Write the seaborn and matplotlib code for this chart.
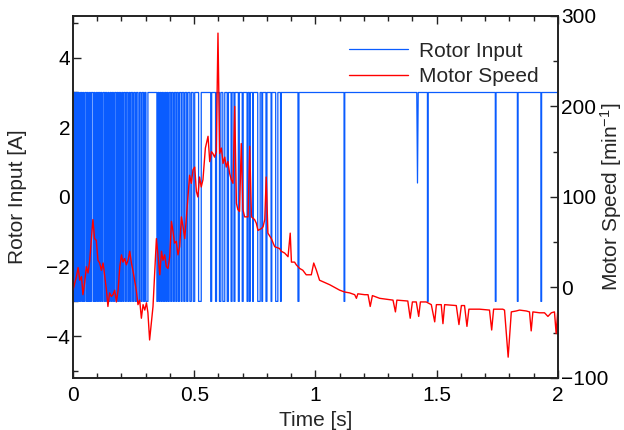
import matplotlib
matplotlib.use("Agg")
import matplotlib.pyplot as plt
import seaborn as sns
import numpy as np
import pandas as pd
from matplotlib.ticker import MultipleLocator

# Rotor input [A]: sits at +3, drops to -3 during the pulses below (start, end in s)
input_high, input_low = 3.0, -3.0
pulse_start = [0.000, 0.009, 0.017, 0.026, 0.036, 0.044, 0.055, 0.063, 0.072, 0.083,
               0.091, 0.101, 0.110, 0.119, 0.130, 0.139, 0.148, 0.158, 0.167, 0.178,
               0.187, 0.196, 0.206, 0.216, 0.226, 0.236, 0.246, 0.257, 0.268, 0.280,
               0.291, 0.301, 0.346, 0.355, 0.364, 0.373, 0.383, 0.392, 0.403, 0.413,
               0.424, 0.434, 0.446, 0.457, 0.469, 0.482, 0.496, 0.518, 0.568, 0.588,
               0.604, 0.618, 0.636, 0.652, 0.664, 0.682, 0.698, 0.718, 0.728, 0.741,
               0.762, 0.779, 0.796, 0.817, 0.836, 0.856, 0.928, 1.118, 1.462, 1.742,
               1.833, 1.930]
pulse_end = [0.004, 0.013, 0.021, 0.031, 0.040, 0.049, 0.059, 0.068, 0.076, 0.087,
             0.096, 0.105, 0.114, 0.124, 0.134, 0.144, 0.153, 0.162, 0.172, 0.182,
             0.191, 0.201, 0.210, 0.220, 0.231, 0.240, 0.251, 0.262, 0.274, 0.285,
             0.296, 0.309, 0.350, 0.359, 0.368, 0.378, 0.387, 0.397, 0.407, 0.418,
             0.428, 0.439, 0.450, 0.462, 0.474, 0.488, 0.502, 0.529, 0.572, 0.592,
             0.610, 0.626, 0.641, 0.656, 0.668, 0.686, 0.702, 0.722, 0.731, 0.744,
             0.772, 0.782, 0.800, 0.820, 0.845, 0.859, 0.932, 1.121, 1.465, 1.745,
             1.836, 1.933]
# one short glitch that only dips part of the way
glitch_t = [1.418, 1.421, 1.424]
glitch_a = [3.0, 0.4, 3.0]

# Motor speed [min^-1]
speed_t = [0.000, 0.014, 0.021, 0.028, 0.035, 0.041, 0.048, 0.055, 0.062, 0.069,
           0.082, 0.089, 0.096, 0.103, 0.110, 0.117, 0.124, 0.131, 0.138, 0.144,
           0.151, 0.158, 0.165, 0.172, 0.179, 0.186, 0.193, 0.200, 0.206, 0.213,
           0.220, 0.227, 0.234, 0.241, 0.247, 0.254, 0.261, 0.268, 0.275, 0.282,
           0.289, 0.296, 0.303, 0.309, 0.316, 0.330, 0.344, 0.358, 0.365, 0.371,
           0.378, 0.385, 0.392, 0.399, 0.406, 0.412, 0.419, 0.426, 0.433, 0.440,
           0.447, 0.454, 0.461, 0.468, 0.474, 0.481, 0.488, 0.495, 0.502, 0.509,
           0.515, 0.522, 0.529, 0.536, 0.546, 0.557, 0.564, 0.571, 0.577, 0.584,
           0.591, 0.598, 0.605, 0.612, 0.619, 0.626, 0.632, 0.639, 0.646, 0.653,
           0.660, 0.667, 0.674, 0.680, 0.687, 0.694, 0.701, 0.708, 0.722, 0.729,
           0.736, 0.749, 0.756, 0.763, 0.777, 0.784, 0.791, 0.797, 0.804, 0.818,
           0.832, 0.852, 0.859, 0.873, 0.887, 0.896, 0.901, 0.914, 0.921, 0.935,
           0.948, 0.962, 0.983, 0.993, 1.004, 1.017, 1.059, 1.100, 1.120, 1.141,
           1.162, 1.169, 1.175, 1.203, 1.217, 1.226, 1.235, 1.265, 1.320, 1.330,
           1.336, 1.381, 1.391, 1.400, 1.416, 1.426, 1.433, 1.457, 1.478, 1.492,
           1.499, 1.519, 1.526, 1.533, 1.581, 1.592, 1.602, 1.615, 1.625, 1.633,
           1.677, 1.718, 1.727, 1.735, 1.773, 1.780, 1.795, 1.808, 1.828, 1.842,
           1.870, 1.883, 1.890, 1.897, 1.925, 1.945, 1.959, 1.973, 1.986, 1.993,
           1.999]
speed_v = [-3, 12, 22, 8, 12, -8, 5, 23, 16, 30,
           75, 54, 52, 30, 27, 19, 27, 12, -3, -21,
           -6, -10, -8, -3, -16, -3, 23, 36, 28, 32,
           25, 30, 40, 27, 19, 8, -3, -19, -14, -34,
           -19, -25, -17, -28, -58, -21, 54, 14, 40, 30,
           36, 23, 21, 34, 73, 63, 49, 51, 36, 45,
           78, 67, 54, 78, 97, 124, 115, 130, 133, 106,
           100, 122, 111, 119, 154, 167, 139, 150, 148, 144,
           150, 281, 148, 154, 137, 144, 133, 139, 126, 119,
           115, 200, 93, 86, 84, 159, 86, 78, 78, 156,
           78, 75, 71, 63, 65, 67, 75, 122, 60, 54,
           45, 43, 40, 38, 34, 60, 28, 28, 25, 21,
           19, 14, 14, 27, 19, 8, 3, -3, -5, -6,
           -8, -12, -7, -8, -8, -21, -9, -12, -14, -27,
           -14, -15, -34, -16, -16, -32, -16, -16, -19, -38,
           -19, -19, -40, -19, -20, -41, -20, -20, -43, -24,
           -24, -25, -47, -24, -24, -25, -77, -27, -26, -25,
           -26, -27, -48, -27, -28, -28, -32, -28, -27, -51,
           -28]

blue = "#0a5cff"
red = "#ff0000"
tick_fs = 15
label_fs = 15


def rotor_frame():
    t, a = [], []
    for s, e in zip(pulse_start, pulse_end):
        t += [s, s, e, e]
        a += [input_high, input_low, input_low, input_high]
    t += glitch_t + [2.0]
    a += glitch_a + [input_high]
    df = pd.DataFrame({"t": t, "a": a})
    return df.sort_values("t", kind="stable")


sns.set_style("ticks")
plt.rcParams["font.family"] = ["Liberation Sans", "DejaVu Sans"]
plt.rcParams["mathtext.default"] = "regular"

fig, ax = plt.subplots(figsize=(6.24, 4.30), dpi=100)
fig.subplots_adjust(left=0.117, right=0.894, top=0.963, bottom=0.121)
ax2 = ax.twinx()

sns.lineplot(data=rotor_frame(), x="t", y="a", ax=ax, color=blue, lw=0.9,
             estimator=None, sort=False, label="Rotor Input")
speed = pd.DataFrame({"t": speed_t, "v": speed_v})
sns.lineplot(data=speed, x="t", y="v", ax=ax2, color=red, lw=1.0,
             estimator=None, sort=False, label="Motor Speed")
for a in (ax, ax2):
    if a.get_legend() is not None:
        a.get_legend().remove()

ax.set_xlim(0, 2)
ax.set_ylim(-5.2, 5.2)
ax2.set_ylim(-100, 300)

ax.xaxis.set_minor_locator(MultipleLocator(0.1))
ax.yaxis.set_minor_locator(MultipleLocator(1))
ax2.yaxis.set_minor_locator(MultipleLocator(50))
ax.set_xticks([0, 0.5, 1, 1.5, 2], ["0", "0.5", "1", "1.5", "2"])
ax.set_yticks([-4, -2, 0, 2, 4], ["\u22124", "\u22122", "0", "2", "4"])
ax2.set_yticks([-100, 0, 100, 200, 300], ["\u2212100", "0", "100", "200", "300"])

ax.tick_params(axis="both", which="both", direction="in", top=True, right=False,
               colors="#222222", labelcolor="black", labelsize=tick_fs)
ax.tick_params(axis="both", which="major", length=6, width=1)
ax.tick_params(axis="both", which="minor", length=3.5, width=1)
ax.tick_params(axis="y", pad=2)
ax.tick_params(axis="x", pad=6)
ax2.tick_params(axis="y", which="both", direction="in", colors="#222222",
                labelcolor="black", labelsize=tick_fs, pad=2.5)
ax2.tick_params(axis="y", which="major", length=6, width=1)
ax2.tick_params(axis="y", which="minor", length=3.5, width=1)

for a in (ax, ax2):
    for sp in a.spines.values():
        sp.set_visible(True)
        sp.set_color("#222222")
        sp.set_linewidth(1.2)

ax.set_xlabel("Time [s]", fontsize=label_fs)
ax.set_ylabel("Rotor Input [A]", fontsize=label_fs)
ax2.set_ylabel("Motor Speed [min$^{-1}$]", fontsize=label_fs)
ax.yaxis.set_label_coords(-0.094, 0.5)
ax2.yaxis.set_label_coords(1.084, 0.5)

h1, l1 = ax.get_legend_handles_labels()
h2, l2 = ax2.get_legend_handles_labels()
ax2.legend(h1 + h2, l1 + l2, loc="upper left", bbox_to_anchor=(0.569, 0.929),
           frameon=False, fontsize=tick_fs, handlelength=2.85, handletextpad=0.5,
           borderpad=0, borderaxespad=0, labelspacing=0.3)

fig.savefig("out.png", dpi=100)
